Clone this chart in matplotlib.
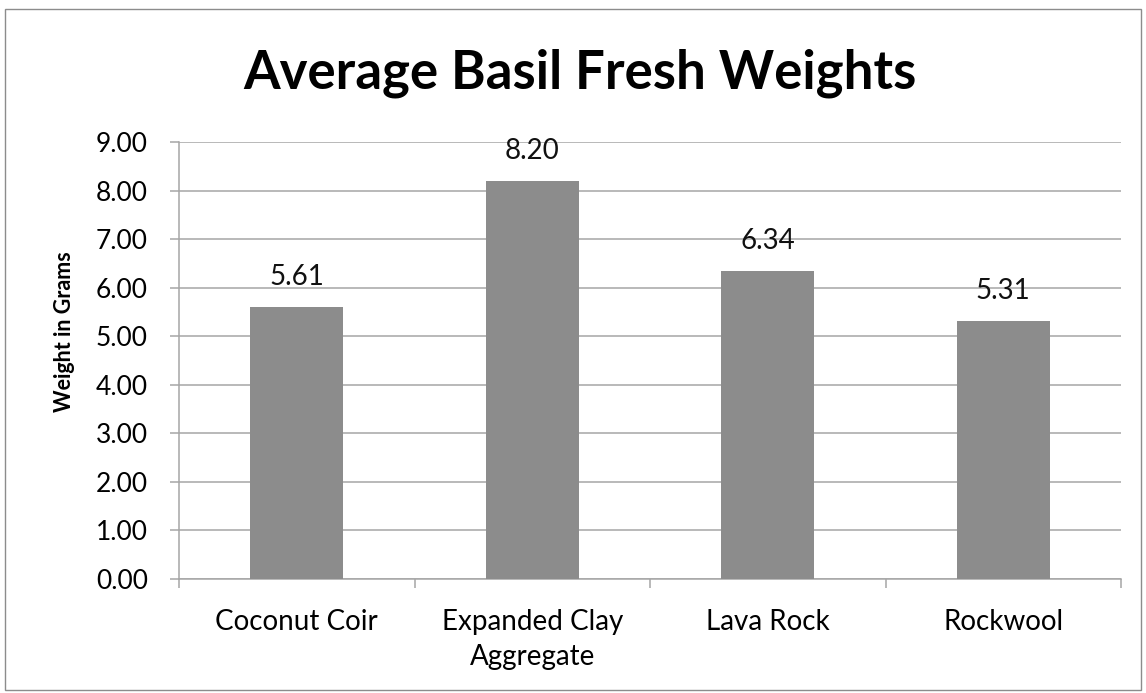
import matplotlib
matplotlib.use("Agg")
import matplotlib.pyplot as plt
from matplotlib.patches import Rectangle

# chart data
categories = ["Coconut Coir", "Expanded Clay\nAggregate", "Lava Rock", "Rockwool"]
weights = [5.61, 8.20, 6.34, 5.31]
y_ticks = [0, 1, 2, 3, 4, 5, 6, 7, 8, 9]

plt.rcParams['font.family'] = ['Lato', 'DejaVu Sans']

BAR_COLOR = "#8c8c8c"
GRID_COLOR = "#a6a6a6"
PX = 0.72  # points per pixel at dpi=100

fig = plt.figure(figsize=(11.46, 6.93), dpi=100)
# outer chart border like an Excel chart area
fig.patches.append(Rectangle((5 / 1146, 3 / 693), 1136 / 1146, 681 / 693, transform=fig.transFigure,
                             fill=False, edgecolor="#8c8c8c", linewidth=1.0))

ax = fig.add_axes([179 / 1146, 1 - 579 / 693, 942 / 1146, 437 / 693])
x = list(range(len(categories)))
ax.bar(x, weights, width=0.395, color=BAR_COLOR, zorder=3)

for xi, w in zip(x, weights):
    ax.annotate(f"{w:.2f}", (xi, w), xytext=(0, 30 * PX), textcoords="offset points",
                ha="center", va="center", fontsize=20, color="#111111")

ax.set_xlim(-0.5, len(categories) - 0.5)
ax.set_ylim(0, 9)
ax.set_yticks(y_ticks)
ax.set_yticklabels([f"{v:.2f}" for v in y_ticks], fontsize=19)
ax.yaxis.grid(True, color=GRID_COLOR, linewidth=1.1, zorder=0)
ax.set_axisbelow(True)

# category labels centered, ticks between categories
ax.set_xticks(x)
ax.set_xticklabels(categories, fontsize=20, linespacing=1.45)
ax.tick_params(axis="x", length=0, pad=22 * PX * 1.35)
ax.set_xticks([i - 0.5 for i in range(len(categories) + 1)], minor=True)
ax.tick_params(axis="x", which="minor", length=9 * PX, color=GRID_COLOR, width=1.1)
ax.tick_params(axis="y", length=9 * PX, color=GRID_COLOR, width=1.1, pad=22 * PX)

for side in ["top", "right"]:
    ax.spines[side].set_visible(False)
for side in ["left", "bottom"]:
    ax.spines[side].set_color(GRID_COLOR)
    ax.spines[side].set_linewidth(1.1)

ax.set_ylabel("Weight in Grams", fontsize=15.5, fontweight="bold")
ax.yaxis.set_label_coords(-(179 - 75) / 942, (579 - 332) / 437)
fig.text(580 / 1146, 1 - 73 / 693, "Average Basil Fresh Weights", ha="center", va="center",
         fontsize=38, fontweight="bold")

fig.savefig("out.png", dpi=100)
